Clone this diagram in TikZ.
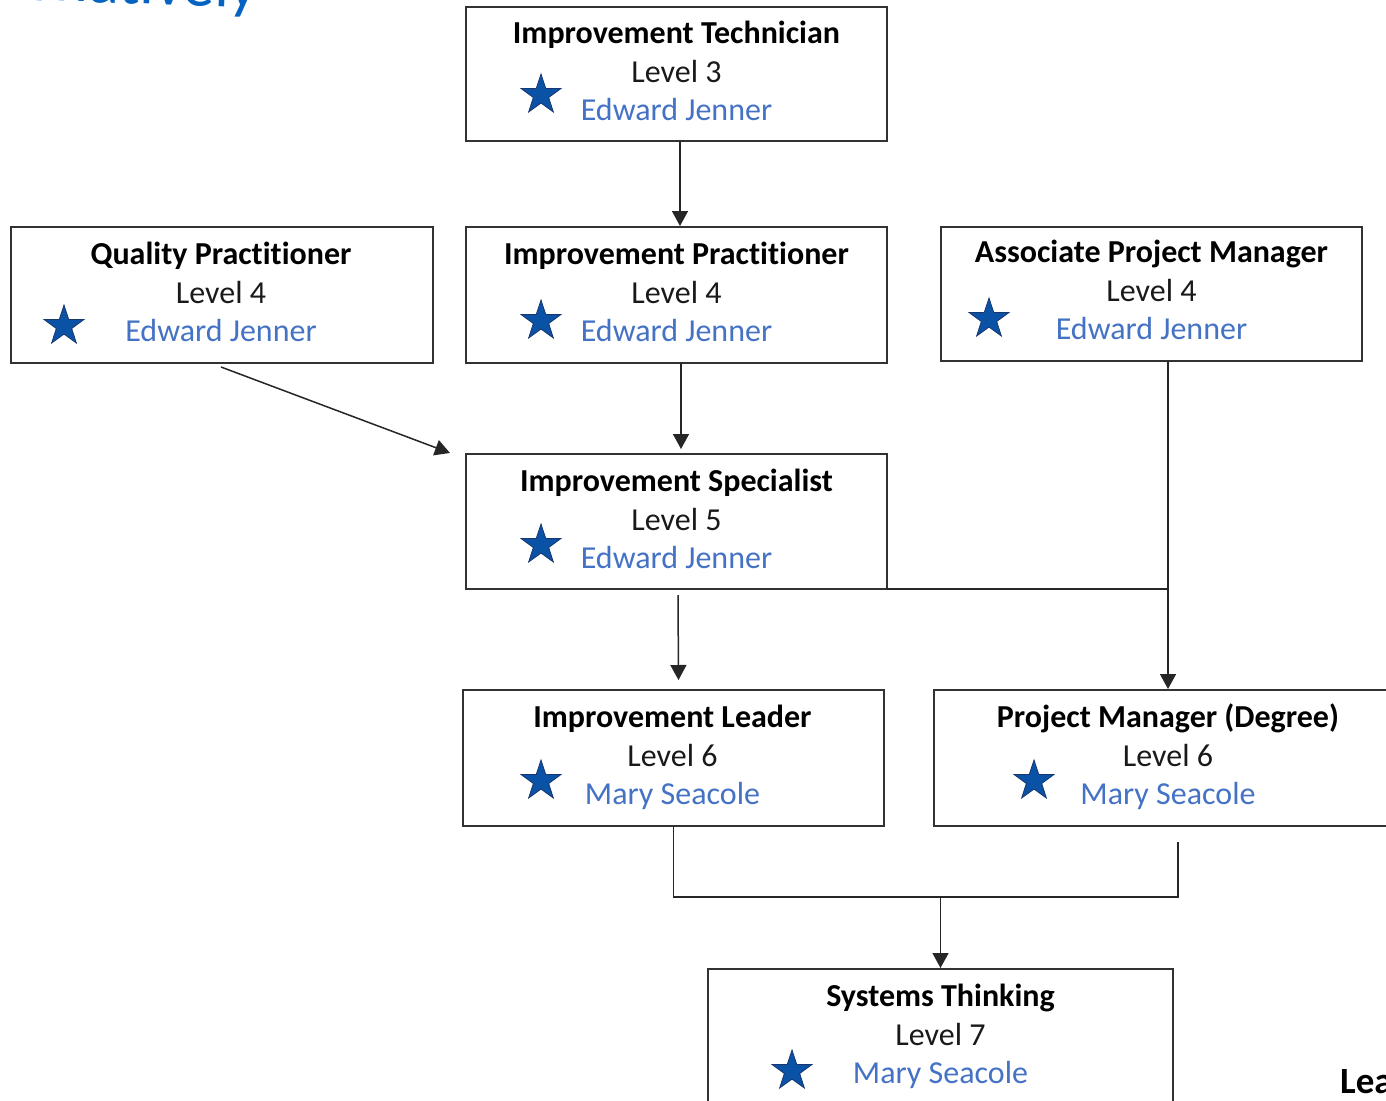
\documentclass[tikz,border=0pt]{standalone}
\usepackage{fontspec}
\setmainfont{Carlito}[Ligatures=NoCommon]
\usetikzlibrary{shapes.geometric,arrows.meta,calc}
\definecolor{namecol}{RGB}{68,114,196}
\definecolor{starfill}{RGB}{10,82,165}
\definecolor{stardraw}{RGB}{25,55,110}
\definecolor{headcol}{RGB}{5,99,193}
\definecolor{boxline}{RGB}{50,50,50}
\tikzset{
  jobbox/.style={draw=boxline, line width=1.5pt, rectangle, inner sep=0pt, outer sep=0pt},
  titletxt/.style={anchor=base, inner sep=0pt, font=\fontsize{32}{38}\selectfont\bfseries, text=black},
  leveltxt/.style={anchor=base, inner sep=0pt, font=\fontsize{32}{38}\selectfont, text=black!90},
  nametxt/.style={anchor=base, inner sep=0pt, font=\fontsize{32}{38}\selectfont, text=namecol},
  starmark/.style={star, star points=5, star point ratio=2.6, minimum size=42pt, inner sep=0pt,
     fill=starfill, draw=stardraw, line width=0.8pt},
  conn/.style={draw=black!85, line width=1.5pt},
  arr/.style={conn, -{Triangle[width=16pt,length=15pt]}},
}
\newcommand{\jobtext}[8]{%
  % #1 box, #2 text x-shift, #3 title, #4 level, #5 name, #6 star x, #7 star y-offset, #8 text y adjust
  \node[titletxt] (#1-t) at ($(#1.north)+(#2,36+#8)$) {#3};
  \node[leveltxt] (#1-l) at ($(#1.north)+(#2,75.5+#8)$) {#4};
  \node[nametxt]  (#1-n) at ($(#1.north)+(#2,113.5+#8)$) {#5};
  \node[starmark] (#1-s) at ($(#1.north west)+(#6,#7)$) {};
}
\begin{document}
\begin{tikzpicture}[x=1pt,y=-1pt]
\useasboundingbox (0,0) rectangle (1386,1100);
% partial heading and footer text
\node[anchor=base east, inner sep=0pt, rotate=-2, text=headcol, font=\fontsize{64}{72}\selectfont] (head) at (258,8) {Alternatively};
\node[anchor=base west, inner sep=0pt, font=\fontsize{37}{44}\selectfont\bfseries] (foot) at (1340,1093) {Lea};
% boxes
\node[jobbox, minimum width=421pt, minimum height=134pt] (it)  at (676.5,74) {};
\node[jobbox, minimum width=422pt, minimum height=136pt] (qp)  at (222,295) {};
\node[jobbox, minimum width=421pt, minimum height=136pt] (ip)  at (676.5,295) {};
\node[jobbox, minimum width=421pt, minimum height=134pt] (apm) at (1151.5,294) {};
\node[jobbox, minimum width=421pt, minimum height=135pt] (is)  at (676.5,521.5) {};
\node[jobbox, minimum width=421pt, minimum height=136pt] (il)  at (673.5,758) {};
\node[jobbox, minimum width=468pt, minimum height=136pt] (pm)  at (1168,758) {};
\node[jobbox, minimum width=465pt, minimum height=136pt] (st)  at (940.5,1037) {};
% contents
\jobtext{it}{0}{Improvement Technician}{Level 3}{Edward Jenner}{75}{88}{0}
\jobtext{qp}{-1}{Quality Practitioner}{Level 4}{Edward Jenner}{53}{99}{1}
\jobtext{ip}{0}{Improvement Practitioner}{Level 4}{Edward Jenner}{75}{94}{1}
\jobtext{apm}{0}{Associate Project Manager}{Level 4}{Edward Jenner}{48}{92}{-1}
\jobtext{is}{0}{Improvement Specialist}{Level 5}{Edward Jenner}{75}{91}{1}
\jobtext{il}{-1}{Improvement Leader}{Level 6}{Mary Seacole}{78}{91}{1}
\jobtext{pm}{0}{Project Manager (Degree)}{Level 6}{Mary Seacole}{100}{91}{1}
\jobtext{st}{0}{Systems Thinking}{Level 7}{Mary Seacole}{84}{102}{1}
% connectors
\draw[arr] ([xshift=3.5pt]it.south) -- ([xshift=3.5pt,yshift=1pt]ip.north);
\draw[arr] ([xshift=4.5pt]ip.south) -- ([xshift=4.5pt,yshift=5pt]is.north);
\draw[arr] ([xshift=-1pt,yshift=-4pt]qp.south) -- ([xshift=-16pt,yshift=1pt]is.north west);
\draw[arr] ([xshift=1.5pt,yshift=-6pt]is.south) -- ([xshift=5pt,yshift=10pt]il.north);
\draw[arr] (apm.south -| pm.north) -- ([yshift=1pt]pm.north);
\draw[conn] (is.south east) -- (is.south east -| pm.north);
\coordinate (join) at ($(st.north)+(0,-72)$);
\draw[conn] (il.south) |- (join) -| ([xshift=10pt,yshift=-16pt]pm.south);
\draw[arr] (join) -- ([yshift=1pt]st.north);
\end{tikzpicture}
\end{document}
